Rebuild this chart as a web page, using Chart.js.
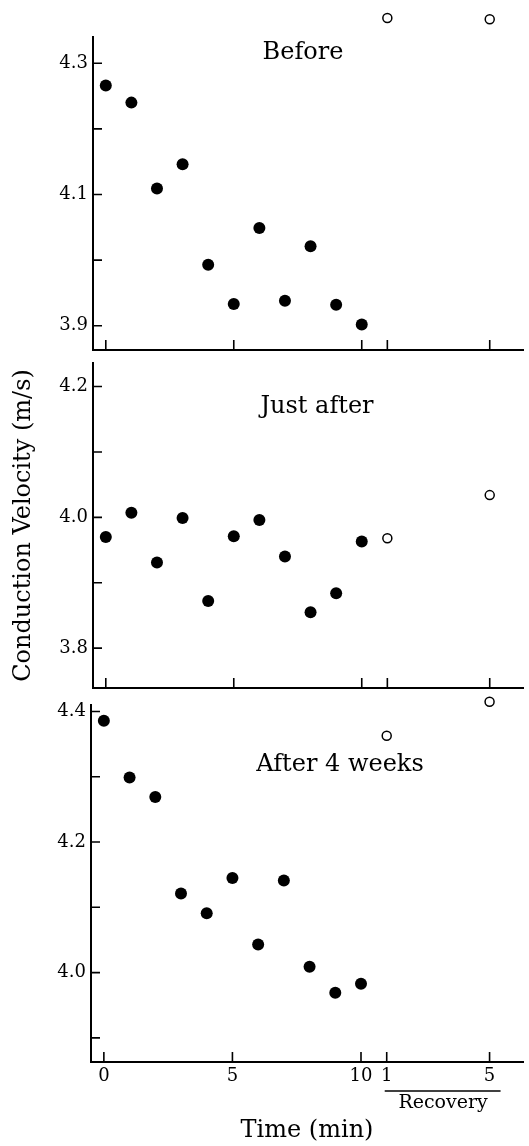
<!DOCTYPE html>
<html>
<head>
<meta charset="utf-8">
<script src="https://cdn.jsdelivr.net/npm/chart.js@4.4.0/dist/chart.umd.min.js"></script>
<style>
  html, body { margin: 0; padding: 0; background: #fff; }
  body { width: 529px; height: 1146px; position: relative; overflow: hidden; }
  canvas { position: absolute; left: 0; }
</style>
</head>
<body>
<canvas id="before" width="529" height="370" style="top:0px"></canvas>
<canvas id="justAfter" width="529" height="365" style="top:343px"></canvas>
<canvas id="after4w" width="529" height="461" style="top:685px"></canvas>
<script>
// time (min) during the test, and positions of recovery 1 and 5 min on the same axis
const timeMin = [0, 1, 2, 3, 4, 5, 6, 7, 8, 9, 10];
const recoveryPos = [11, 15];

const xTickValues = [0, 5, 10, 11, 15];
const xTickLabels = ['0', '5', '10', '1', '5'];

// conduction velocity (m/s)
const before = [4.266, 4.240, 4.109, 4.146, 3.993, 3.933, 4.049, 3.938, 4.021, 3.932, 3.902];
const beforeRecovery = [4.369, 4.367];
const justAfter = [3.970, 4.007, 3.931, 3.999, 3.872, 3.971, 3.996, 3.940, 3.855, 3.884, 3.963];
const justAfterRecovery = [3.968, 4.034];
const after4w = [4.386, 4.299, 4.269, 4.121, 4.091, 4.145, 4.043, 4.141, 4.009, 3.969, 3.983];
const after4wRecovery = [4.363, 4.415];

const yTicksBefore = [3.9, 4.0, 4.1, 4.2, 4.3];
const yLabelsBefore = ['3.9', '', '4.1', '', '4.3'];
const yTicksJustAfter = [3.8, 3.9, 4.0, 4.1, 4.2];
const yLabelsJustAfter = ['3.8', '', '4.0', '', '4.2'];
const yTicksAfter4w = [3.9, 4.0, 4.1, 4.2, 4.3, 4.4];
const yLabelsAfter4w = ['', '4.0', '', '4.2', '', '4.4'];

const serif = "'DejaVu Serif', serif";

// short inward tick marks + panel caption + recovery bracket
const paperAxes = {
  id: 'paperAxes',
  beforeDatasetsDraw(chart) {
    // let points above the axis top (recovery values) still be drawn
    chart._savedTop = chart.chartArea.top;
    chart.chartArea.top -= 40;
  },
  afterDatasetsDraw(chart) {
    chart.chartArea.top = chart._savedTop;
  },
  afterDraw(chart, args, opts) {
    const ctx = chart.ctx;
    const xs = chart.scales.x, ys = chart.scales.y;
    const area = chart.chartArea;
    ctx.save();
    ctx.strokeStyle = '#000';
    ctx.lineWidth = 1.6;
    ctx.beginPath();
    xs.ticks.forEach(t => {
      const px = xs.getPixelForValue(t.value);
      ctx.moveTo(px, area.bottom);
      ctx.lineTo(px, area.bottom - 10);
    });
    ys.ticks.forEach(t => {
      const py = ys.getPixelForValue(t.value);
      ctx.moveTo(area.left, py);
      ctx.lineTo(area.left + 9, py);
    });
    ctx.stroke();

    ctx.fillStyle = '#000';
    ctx.font = "24px " + serif;
    ctx.textAlign = 'center';
    ctx.textBaseline = 'middle';
    ctx.fillText(opts.caption, opts.captionX, area.top + opts.captionDy);

    if (opts.recovery) {
      const r1 = xs.getPixelForValue(recoveryPos[0]);
      const r5 = xs.getPixelForValue(recoveryPos[1]);
      ctx.beginPath();
      ctx.lineWidth = 1.5;
      ctx.moveTo(r1 - 2, area.bottom + 29);
      ctx.lineTo(r5 + 11, area.bottom + 29);
      ctx.stroke();
      ctx.font = "19px " + serif;
      ctx.textBaseline = 'alphabetic';
      ctx.fillText('Recovery', (r1 + r5) / 2 + 5, area.bottom + 46);
    }
    ctx.restore();
  }
};

function makePanel(id, values, recovery, yMin, yMax, yTicks, yLabels, cfg) {
  const ctx = document.getElementById(id).getContext('2d');
  return new Chart(ctx, {
    type: 'scatter',
    data: {
      datasets: [
        {
          data: timeMin.map((t, i) => ({ x: t, y: values[i] })),
          pointRadius: 6,
          pointBackgroundColor: '#000',
          pointBorderWidth: 0,
          clip: false
        },
        {
          data: recoveryPos.map((t, i) => ({ x: t, y: recovery[i] })),
          pointRadius: 4.5,
          pointBackgroundColor: '#fff',
          pointBorderColor: '#000',
          pointBorderWidth: 1.5,
          clip: false
        }
      ]
    },
    options: {
      responsive: false,
      animation: false,
      events: [],
      layout: { padding: { top: cfg.padTop, left: 0, right: 0, bottom: 0 } },
      plugins: {
        legend: { display: false },
        tooltip: { enabled: false },
        paperAxes: { caption: cfg.caption, captionX: cfg.captionX, captionDy: cfg.captionDy, recovery: cfg.showX }
      },
      scales: {
        x: {
          type: 'linear',
          min: -0.5,
          max: 16.3,
          afterBuildTicks: s => { s.ticks = xTickValues.map(v => ({ value: v })); },
          afterFit: s => { s.height = cfg.xHeight; },
          grid: { display: false, drawTicks: false },
          border: { display: true, color: '#000', width: 2 },
          ticks: {
            display: cfg.showX,
            autoSkip: false,
            maxRotation: 0,
            padding: 4,
            color: '#000',
            font: { family: serif, size: 18 },
            callback: (v, i) => xTickLabels[i]
          },
          title: {
            display: cfg.showX,
            text: 'Time (min)',
            color: '#000',
            font: { family: serif, size: 24 },
            padding: { top: 0, bottom: 1 }
          }
        },
        y: {
          type: 'linear',
          min: yMin,
          max: yMax,
          afterBuildTicks: s => { s.ticks = yTicks.map(v => ({ value: v })); },
          afterFit: s => { s.width = cfg.left; },
          grid: { display: false, drawTicks: false },
          border: { display: true, color: '#000', width: 2 },
          ticks: {
            autoSkip: false,
            padding: 5,
            color: '#000',
            font: { family: serif, size: 18 },
            callback: (v, i) => yLabels[i]
          },
          title: {
            display: cfg.yTitle,
            text: 'Conduction Velocity (m/s)',
            color: '#000',
            font: { family: serif, size: 24 },
            padding: { top: 9, bottom: 0 }
          }
        }
      }
    },
    plugins: [paperAxes]
  });
}

makePanel('before', before, beforeRecovery, 3.863, 4.340, yTicksBefore, yLabelsBefore,
  { padTop: 37, xHeight: 20, left: 93, showX: false, yTitle: false, caption: 'Before', captionX: 303, captionDy: 16 });
makePanel('justAfter', justAfter, justAfterRecovery, 3.739, 4.236, yTicksJustAfter, yLabelsJustAfter,
  { padTop: 20, xHeight: 20, left: 93, showX: false, yTitle: true, caption: 'Just after', captionX: 317, captionDy: 44 });
makePanel('after4w', after4w, after4wRecovery, 3.863, 4.410, yTicksAfter4w, yLabelsAfter4w,
  { padTop: 20, xHeight: 84, left: 91, showX: true, yTitle: false, caption: 'After 4 weeks', captionX: 340, captionDy: 60 });
</script>
</body>
</html>
